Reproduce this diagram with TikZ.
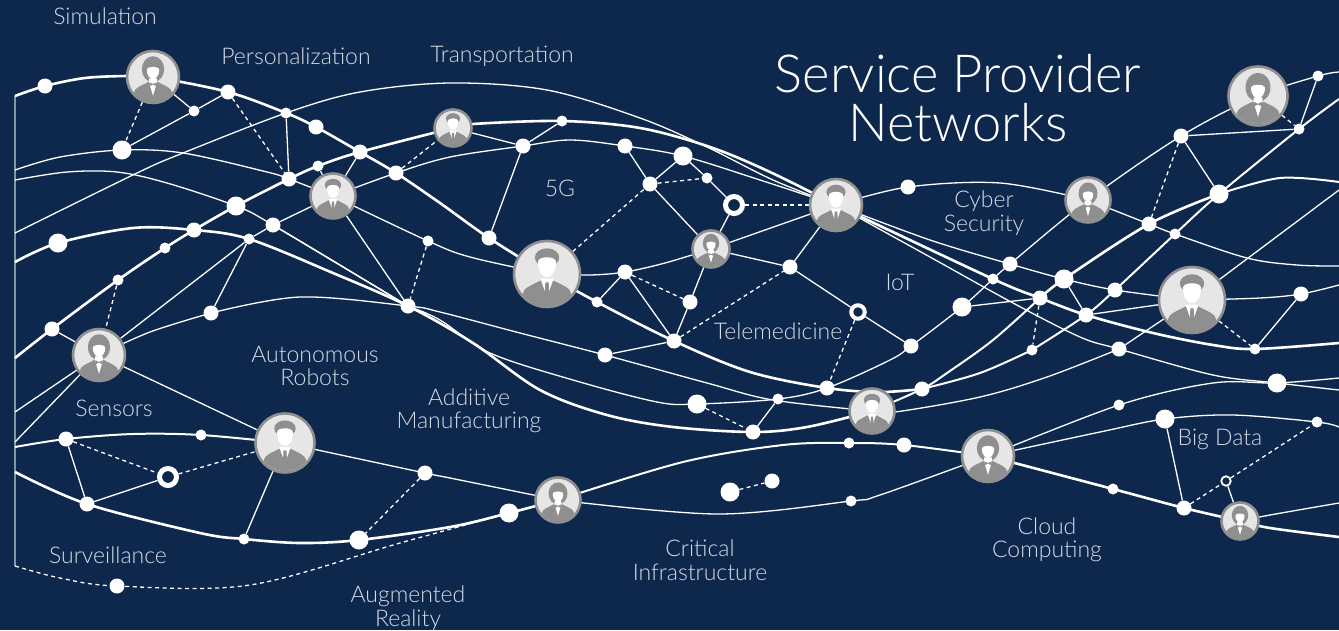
\documentclass[tikz,border=0pt]{standalone}
\usepackage{fontspec}
\setmainfont{Lato Light}
\definecolor{bgblue}{HTML}{0D274D}
\definecolor{iconlight}{HTML}{E6E6E6}
\definecolor{icondark}{HTML}{8F8F8F}
\definecolor{railgrey}{HTML}{8595A8}
\definecolor{labelgrey}{HTML}{D6DCE5}
\pgfdeclarelayer{edges}
\pgfsetlayers{edges,main}
\tikzset{
 dots/.style={circle,fill=white,inner sep=0pt,minimum size=11pt},
 dotm/.style={circle,fill=white,inner sep=0pt,minimum size=15pt},
 dotl/.style={circle,fill=white,inner sep=0pt,minimum size=19pt},
 ringnode/.style={circle,draw=white,fill=bgblue,line width=#1,inner sep=0pt},
 person/.style={circle,draw=icondark,fill=iconlight,line width=2.6pt,inner sep=0pt,minimum size=#1},
 lab/.style={text=labelgrey,align=center,inner sep=0pt,font=\fontsize{23}{23.5}\selectfont},
 titlelab/.style={text=white,align=center,inner sep=0pt,font=\fontsize{52.5}{49}\selectfont},
 thinl/.style={draw=white,line width=1.3pt},
 medl/.style={draw=white,line width=2pt},
 thickl/.style={draw=white,line width=2.6pt},
 dashl/.style={draw=white,line width=1.3pt,dash pattern=on 4pt off 3.5pt},
}
\newcommand\cv[2][thinl]{\draw[#1] plot[smooth,tension=0.55] coordinates {#2};}
\newcommand\iconbody{%
 \fill[icondark] (-0.78,1)--(-0.74,0.62) .. controls (-0.72,0.42) and (-0.5,0.36) .. (-0.2,0.2)--(0.2,0.2) .. controls (0.5,0.36) and (0.72,0.42) .. (0.74,0.62)--(0.78,1)--cycle;}
\newcommand\iconman[2]{\begin{scope}[shift={(#1.center)},scale=#2]
 \clip (0,0) circle (0.97);
 \iconbody
 \fill[icondark] (0,-0.5) ellipse (0.37 and 0.28);
 \fill[white] (-0.27,-0.38) .. controls (-0.25,-0.55) and (0.25,-0.55) .. (0.27,-0.38) .. controls (0.28,-0.05) and (0.12,0.1) .. (0,0.1) .. controls (-0.12,0.1) and (-0.28,-0.05) .. (-0.27,-0.38)--cycle;
 \fill[white] (-0.2,0.14)--(0.2,0.14)--(0,0.7)--cycle;
 \fill[icondark] (-0.05,0.25)--(0.05,0.25)--(0.07,0.62)--(0,0.72)--(-0.07,0.62)--cycle;
\end{scope}}
\newcommand\iconwoman[2]{\begin{scope}[shift={(#1.center)},scale=#2]
 \clip (0,0) circle (0.97);
 \fill[icondark] (0,-0.3) ellipse (0.43 and 0.5);
 \iconbody
 \fill[white] (-0.24,-0.3) .. controls (-0.2,-0.42) and (0.2,-0.42) .. (0.24,-0.3) .. controls (0.25,-0.05) and (0.1,0.08) .. (0,0.08) .. controls (-0.1,0.08) and (-0.25,-0.05) .. (-0.24,-0.3)--cycle;
 \fill[white] (-0.15,0.05)--(0.15,0.05)--(0.15,0.22)--(0,0.72)--(-0.15,0.22)--cycle;
 \fill[icondark] (-0.14,0.2)--(0,0.27)--(0.14,0.2)--(0.14,0.36)--(0,0.29)--(-0.14,0.36)--cycle;
\end{scope}}
\begin{document}
\begin{tikzpicture}[x=1pt,y=-1pt]
\useasboundingbox (0,0) rectangle (1339,630);
% persons
\node[person=52pt] (p1) at (153,77) {};
\node[person=45pt] (p2) at (333,196) {};
\node[person=37pt] (p3) at (453,128) {};
\node[person=66pt] (p4) at (547,274) {};
\node[person=37pt] (p5) at (711,249) {};
\node[person=52pt] (p6) at (836,205) {};
\node[person=45pt] (p7) at (1088,200) {};
\node[person=59pt] (p8) at (1258,96) {};
\node[person=66pt] (p9) at (1192,300) {};
\node[person=52pt] (p10) at (99,355) {};
\node[person=59pt] (p11) at (285,443) {};
\node[person=45pt] (p12) at (558,500) {};
\node[person=45pt] (p13) at (872,411) {};
\node[person=52pt] (p14) at (988,456) {};
\node[person=37pt] (p15) at (1240,521) {};
\iconwoman{p1}{26}\iconman{p2}{22}\iconman{p3}{19}\iconman{p4}{33}\iconwoman{p5}{19}
\iconman{p6}{26}\iconwoman{p7}{22}\iconwoman{p8}{29}\iconman{p9}{33}\iconwoman{p10}{26}
\iconman{p11}{29}\iconwoman{p12}{22}\iconman{p13}{22}\iconwoman{p14}{26}\iconwoman{p15}{19}
% dots
\node[dotm] (a1) at (45,86) {};
\node[dotm] (a2) at (228,92) {};
\node[dots] (a3) at (194,111) {};
\node[dotl] (a4) at (122,150) {};
\node[dots] (a5) at (286,113) {};
\node[dotm] (a6) at (316,127) {};
\node[dotm] (a7) at (360,152) {};
\node[dots] (a8) at (318,166) {};
\node[dotm] (a9) at (289,179) {};
\node[dotm] (a10) at (396,173) {};
\node[dotl] (a11) at (236,206) {};
\node[dotm] (a12) at (273,225) {};
\node[dots] (a13) at (249,239) {};
\node[dotm] (a14) at (194,230) {};
\node[dots] (a15) at (165,248) {};
\node[dotl] (a16) at (58,243) {};
\node[dots] (a17) at (118,280) {};
\node[dots] (a18) at (428,241) {};
\node[dotm] (a19) at (408,306) {};
\node[dotm] (a20) at (211,313) {};
\node[dotm] (a21) at (52,329) {};
\node[dots] (b1) at (562,121) {};
\node[dotm] (b2) at (523,146) {};
\node[dotm] (b3) at (625,146) {};
\node[dotl] (b4) at (683,156) {};
\node[dots] (b5) at (707,178) {};
\node[dotm] (b6) at (650,184) {};
\node[ringnode=5pt,minimum size=17pt] (b7) at (734,205) {};
\node[dotm] (b8) at (489,238) {};
\node[dotm] (b9) at (790,267) {};
\node[ringnode=4pt,minimum size=13.5pt] (b10) at (858,312) {};
\node[dotm] (b11) at (625,272) {};
\node[dotm] (b12) at (690,302) {};
\node[dots] (b13) at (597,302) {};
\node[dotm] (b14) at (674,341) {};
\node[dotm] (b15) at (605,355) {};
\node[dotl] (b16) at (697,404) {};
\node[dots] (b17) at (778,399) {};
\node[dotm] (b18) at (827,388) {};
\node[dotm] (b19) at (753,432) {};
\node[dots] (b20) at (849,443) {};
\node[dotm] (c1) at (908,187) {};
\node[dotm] (c2) at (1181,136) {};
\node[dots] (c3) at (1318,76) {};
\node[dots] (c4) at (1299,129) {};
\node[dotl] (c5) at (1219,194) {};
\node[dotm] (c6) at (1149,224) {};
\node[dots] (c7) at (1175,234) {};
\node[dotm] (c8) at (1010,264) {};
\node[dots] (c9) at (993,279) {};
\node[dotl] (c10) at (1064,279) {};
\node[dotm] (c11) at (1040,298) {};
\node[dotm] (c12) at (1115,290) {};
\node[dotm] (c13) at (1086,315) {};
\node[dotl] (c14) at (962,307) {};
\node[dotm] (c15) at (911,346) {};
\node[dots] (c16) at (1032,350) {};
\node[dotm] (c17) at (1119,349) {};
\node[dots] (c18) at (1255,349) {};
\node[dotm] (c19) at (1301,294) {};
\node[dotm] (d1) at (66,439) {};
\node[dots] (d2) at (201,435) {};
\node[ringnode=5pt,minimum size=17pt] (d3) at (168,477) {};
\node[dotm] (d4) at (87,504) {};
\node[dots] (d5) at (244,539) {};
\node[dotl] (d6) at (359,540) {};
\node[dotm] (d7) at (425,473) {};
\node[dotm] (d8) at (117,586) {};
\node[dotl] (e1) at (509,513) {};
\node[dotl] (e2) at (730,492) {};
\node[dotm] (e3) at (772,481) {};
\node[dots] (e4) at (851,501) {};
\node[dotm] (f1) at (922,389) {};
\node[dotm] (f2) at (904,445) {};
\node[dotl] (f3) at (1277,383) {};
\node[dots] (f4) at (1119,405) {};
\node[dotl] (f5) at (1165,419) {};
\node[dots] (f6) at (1317,422) {};
\node[dots] (f7) at (1113,489) {};
\node[dotm] (f8) at (1184,508) {};
\node[ringnode=1.8pt,minimum size=9.5pt] (f9) at (1226,481) {};
% free ends
\coordinate (L1) at (15,96);
\coordinate (L2) at (15,170);
\coordinate (L3) at (15,180);
\coordinate (L4) at (15,233);
\coordinate (L5) at (15,262);
\coordinate (L6) at (15,358);
\coordinate (L7) at (15,412);
\coordinate (L8) at (15,442);
\coordinate (L9) at (15,447);
\coordinate (L10) at (15,472);
\coordinate (L11) at (15,566);
\coordinate (R1) at (1339,72);
\coordinate (R2) at (1339,99);
\coordinate (R3) at (1339,182);
\coordinate (R4) at (1339,190);
\coordinate (R5) at (1339,266);
\coordinate (R6) at (1339,285);
\coordinate (R7) at (1339,343);
\coordinate (R8) at (1339,378);
\coordinate (R9) at (1339,390);
\coordinate (R10) at (1339,427);
\coordinate (R11) at (1339,503);
\coordinate (R12) at (1339,537);
\begin{pgfonlayer}{edges}
\fill[bgblue] (0,0) rectangle (1339,630);
\draw[railgrey,line width=1.5pt] (L1) -- (L11);
% long strands
\cv[thickl]{(L1) (a1) (85,78) (127,76) (p1) (a2) (a5) (a6) (a7) (a10) (440,203) (b8) (p4) (b13) (b14) (750,372) (b18) (880,392) (f1)}
\cv[thickl]{(L6) (a21) (a17) (a15) (a14) (a11) (a9) (a8) (a7) (p3) (473,124) (b1) (640,128) (710,147) (770,172) (p6)}
\cv[thickl]{(L5) (a16) (133,228) (a14) (a13) (333,273) (a19) (473,343) (540,390) (607,415) (673,427) (b19) (807,427) (p13)}
\cv{(L2) (60,157) (a4) (183,153) (267,172) (a9) (p2)}
\cv{(L3) (67,172) (117,172) (167,183) (a11) (a12) (a19)}
\cv{(L4) (137,173) (183,153) (a5) (360,92) (450,83) (547,90) (640,118) (707,147) (773,180) (p6)}
\cv{(p2) (a10) (450,157) (b2) (570,140) (b3) (b4) (760,180) (p6)}
\cv{(p2) (a18) (470,257) (p4)}
\cv{(a20) (300,297) (a19) (440,312) (520,333) (b15) (707,383) (773,400) (p13)}
\cv{(a19) (440,320) (490,353) (573,380) (657,402) (b16) (b17) (b18) (890,360) (c15) (c14) (c9) (c8) (p7) (c2) (p8) (c3) (R1)}
\cv{(p10) (150,332) (a20)}
\cv{(p6) (c1) (1000,183) (p7)}
\cv{(p6) (930,240) (c8) (c10) (c12) (p9)}
\cv[thickl]{(p6) (c9) (c11) (c13) (1153,333) (1213,345) (c18) (R7)}
\cv{(p6) (930,257) (1013,303) (1080,337) (c17) (1213,375) (f3) (R9)}
\cv{(p7) (c6) (c7) (1247,258) (1297,265) (R5)}
\cv[medl]{(c16) (c13) (c12) (c7) (c5) (c4) (R2)}
\cv[thickl]{(c11) (c10) (c6) (c5)}
\cv[medl]{(c5) (1280,178) (R3)}
\draw[thinl] (p9) -- (R4);
\cv{(p9) (1260,298) (c19) (R6)}
\cv[medl]{(p13) (f1) (947,373) (993,340) (c11)}
\cv[medl]{(f1) (980,373) (c16)}
\cv{(p13) (895,412) (980,397) (1047,377) (c17)}
\draw[thinl] (c17) -- (p9);
\cv{(p10) (L7)}
\cv{(p10) (L8)}
\cv[medl]{(L9) (d1) (133,434) (d2) (p11)}
\cv[thickl]{(L10) (d4) (200,533) (d5) (300,543) (d6) (450,527) (e1) (p12)}
\cv{(p11) (d7) (450,478) (p12)}
\cv[medl]{(p12) (683,462) (783,445) (b20) (f2) (p14)}
\cv{(p12) (717,514) (e4) (880,495) (p14)}
\cv{(p14) (f4) (1213,383) (f3) (R8)}
\cv{(p14) (1100,432) (f5) (1233,415) (f6) (R10)}
\cv[thickl]{(p14) (f7) (f8) (p15) (1270,528) (R12)}
\cv{(p15) (1270,515) (R11)}
\cv[dashl]{(L11) (60,578) (d8) (250,585) (400,543) (e1)}
% straight links
\draw[thinl] (p1) -- (a3);
\draw[thinl] (a3) -- (a2);
\draw[thinl] (a3) -- (a4);
\draw[dashl] (p1) -- (a4);
\draw[dashl] (a2) -- (a9);
\draw[thinl] (a5) -- (a9);
\draw[thinl] (a7) -- (p2);
\draw[thinl] (a8) -- (p2);
\draw[dashl] (a10) -- (p3);
\draw[thinl] (p2) -- (a12);
\draw[thinl] (p2) -- (a19);
\draw[thinl] (a12) -- (a13);
\draw[thinl] (a12) -- (a19);
\draw[thinl] (a13) -- (a20);
\draw[thinl] (a13) -- (p10);
\draw[dashl] (a18) -- (a19);
\draw[dashl] (a17) -- (p10);
\draw[thinl] (a21) -- (p10);
\draw[thinl] (p10) -- (p11);
\draw[thinl] (p3) -- (b2);
\draw[thinl] (b2) -- (b1);
\draw[thinl] (b2) -- (b8);
\draw[thinl] (b3) -- (b6);
\draw[thinl] (b4) -- (b6);
\draw[thinl] (b4) -- (b5);
\draw[thinl] (b5) -- (b7);
\draw[dashl] (b6) -- (b5);
\draw[thinl] (b6) -- (p5);
\draw[thinl] (b7) -- (p5);
\draw[dashl] (b7) -- (p6);
\draw[dashl] (p4) -- (b6);
\cv{(p4) (590,275) (b11) (665,263) (p5)}
\draw[thinl] (b13) -- (b11);
\draw[thinl] (b11) -- (b14);
\draw[dashl] (b11) -- (b12);
\draw[thinl] (b12) -- (b14);
\draw[thinl] (b12) -- (p5);
\draw[thinl] (p5) -- (p6);
\draw[thinl] (p5) -- (b9);
\draw[thinl] (p6) -- (b9);
\draw[thinl] (b9) -- (b10);
\draw[thinl] (b10) -- (c15);
\draw[dashl] (b14) -- (b9);
\draw[dashl] (b10) -- (b18);
\draw[thinl] (b14) -- (b15);
\draw[dashl] (b16) -- (b19);
\draw[thinl] (b17) -- (b19);
\draw[dashl] (e2) -- (e3);
\draw[thinl] (c2) -- (c4);
\draw[thinl] (c2) -- (c5);
\draw[dashl] (c2) -- (c6);
\draw[thinl] (c3) -- (c4);
\draw[dashl] (p8) -- (c4);
\draw[thinl] (c10) -- (c13);
\draw[thinl] (c11) -- (c14);
\draw[dashl] (c11) -- (c16);
\draw[thinl] (c13) -- (p9);
\draw[dashl] (p9) -- (c18);
\draw[thinl] (c19) -- (c18);
\draw[thinl] (d1) -- (d4);
\draw[thinl] (d4) -- (d3);
\draw[dashl] (d1) -- (d3);
\draw[dashl] (d3) -- (p11);
\draw[thinl] (p11) -- (d5);
\draw[dashl] (d7) -- (d6);
\draw[thinl] (f5) -- (f8);
\draw[dashl] (f8) -- (f9);
\draw[dashl] (f9) -- (f6);
\draw[thinl] (f9) -- (p15);
\end{pgfonlayer}
% labels
\node[lab] (t1) at (105,16) {Simulation};
\node[lab] (t2) at (296,56) {Personalization};
\node[lab] (t3) at (502,56) {Transportation};
\node[titlelab] (t4) at (958,98) {Service Provider\\Networks};
\node[lab] (t5) at (560,188) {5G};
\node[lab] (t6) at (984,213) {Cyber\\Security};
\node[lab] (t7) at (900,282) {IoT};
\node[lab] (t8) at (778,331) {Telemedicine};
\node[lab] (t9) at (315,366) {Autonomous\\Robots};
\node[lab] (t10) at (114,408) {Sensors};
\node[lab] (t11) at (469,411) {Additive\\Manufacturing};
\node[lab] (t12) at (108,555) {Surveillance};
\node[lab] (t13) at (408,608) {Augmented\\Reality};
\node[lab] (t14) at (700,560) {Critical\\Infrastructure};
\node[lab] (t15) at (1047,540) {Cloud\\Computing};
\node[lab] (t16) at (1220,439) {Big Data};
\end{tikzpicture}
\end{document}
